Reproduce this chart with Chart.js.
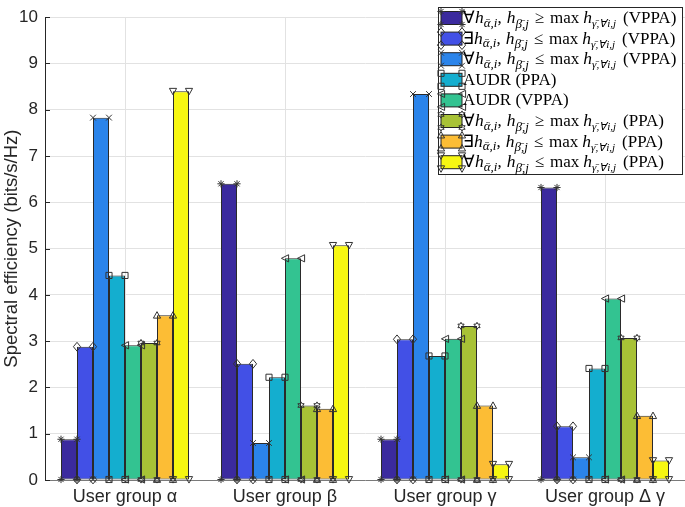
<!DOCTYPE html>
<html><head><meta charset="utf-8">
<script src="https://cdn.jsdelivr.net/npm/chart.js@4/dist/chart.umd.min.js"></script>
<style>html,body{margin:0;padding:0;background:#fff;}#wrap{width:685px;height:507px;position:relative;}</style>
</head><body><div id="wrap"><canvas id="c" width="685" height="507"></canvas></div>
<script>
const categories = ['User group α', 'User group β', 'User group γ', 'User group Δ γ'];
const s1 = [0.88, 6.40, 0.88, 6.32];
const s2 = [2.88, 2.51, 3.04, 1.16];
const s3 = [7.83, 0.80, 8.34, 0.49];
const s4 = [4.42, 2.22, 2.68, 2.41];
const s5 = [2.91, 4.79, 3.05, 3.92];
const s6 = [2.96, 1.61, 3.33, 3.07];
const s7 = [3.56, 1.54, 1.61, 1.39];
const s8 = [8.40, 5.07, 0.34, 0.42];
const yTicks = [0, 1, 2, 3, 4, 5, 6, 7, 8, 9, 10];
const legendQuant = ['∀', '∃', '∀', '', '', '∀', '∃', '∀'];
const legendRel = ['≥', '≤', '≤', '', '', '≥', '≤', '≤'];
const legendTag = ['(VPPA)', '(VPPA)', '(VPPA)', 'AUDR (PPA)', 'AUDR (VPPA)', '(PPA)', '(PPA)', '(PPA)'];
const colors = ['#3b2a9e', '#4250e6', '#2b84ea', '#14aecf', '#33c391', '#a8c236', '#fcbd35', '#f7f712'];
const markers = ['asterisk', 'diamond', 'x', 'square', 'triLeft', 'hexagram', 'triUp', 'triDown'];

const series = [s1, s2, s3, s4, s5, s6, s7, s8];
function labelText(i) {
  if (!legendQuant[i]) return legendTag[i];
  return legendQuant[i] + 'h_{ᾱ,i}, h_{β̄,j} ' + legendRel[i] + ' max h_{γ̄,∀i,j} ' + legendTag[i];
}

function drawMarker(ctx, type, x, y) {
  const r = 3.6;
  ctx.beginPath();
  switch (type) {
    case 'asterisk':
      ctx.moveTo(x - r, y); ctx.lineTo(x + r, y);
      ctx.moveTo(x, y - r); ctx.lineTo(x, y + r);
      ctx.moveTo(x - r * 0.72, y - r * 0.72); ctx.lineTo(x + r * 0.72, y + r * 0.72);
      ctx.moveTo(x - r * 0.72, y + r * 0.72); ctx.lineTo(x + r * 0.72, y - r * 0.72);
      break;
    case 'diamond':
      ctx.moveTo(x, y - r - 0.8); ctx.lineTo(x + r, y); ctx.lineTo(x, y + r + 0.8); ctx.lineTo(x - r, y); ctx.closePath();
      break;
    case 'x':
      ctx.moveTo(x - r * 0.8, y - r * 0.8); ctx.lineTo(x + r * 0.8, y + r * 0.8);
      ctx.moveTo(x - r * 0.8, y + r * 0.8); ctx.lineTo(x + r * 0.8, y - r * 0.8);
      break;
    case 'square':
      ctx.rect(x - r * 0.85, y - r * 0.85, r * 1.7, r * 1.7);
      break;
    case 'triLeft':
      ctx.moveTo(x - r, y); ctx.lineTo(x + r, y - r); ctx.lineTo(x + r, y + r); ctx.closePath();
      break;
    case 'triUp':
      ctx.moveTo(x, y - r); ctx.lineTo(x + r, y + r * 0.8); ctx.lineTo(x - r, y + r * 0.8); ctx.closePath();
      break;
    case 'triDown':
      ctx.moveTo(x, y + r); ctx.lineTo(x + r, y - r * 0.8); ctx.lineTo(x - r, y - r * 0.8); ctx.closePath();
      break;
    case 'hexagram': {
      for (let k = 0; k < 12; k++) {
        const a = -Math.PI / 2 + k * Math.PI / 6;
        const rr = k % 2 === 0 ? r : r * 0.55;
        const px = x + rr * Math.cos(a), py = y + rr * Math.sin(a);
        if (k === 0) ctx.moveTo(px, py); else ctx.lineTo(px, py);
      }
      ctx.closePath();
      break;
    }
  }
  ctx.stroke();
}

function drawMath(ctx, x, y, i) {
  const main = '17px "Liberation Serif"';
  const ital = 'italic 17.5px "Liberation Serif"';
  const sub = 'italic 13px "Liberation Serif"';
  const sub2 = 'italic 11px "Liberation Serif"';
  function put(t, f, dy, gap) { ctx.font = f; ctx.fillText(t, x, y + dy); x += ctx.measureText(t).width + (gap || 0); }
  if (!legendQuant[i]) { put(legendTag[i], main, 0); return; }
  put(legendQuant[i], main, 0);
  put('h', ital, 0); put('ᾱ,i', sub, 3.5);
  put(',', main, 0, 5);
  put('h', ital, 0); put('β̄,j', sub, 4.5, 6);
  put(legendRel[i], main, 0, 6);
  put('max', main, 0, 4);
  put('h', ital, 0); put('γ̄,∀i,j', sub2, 4, 7);
  put(legendTag[i], main, 0);
}

const overlay = {
  id: 'overlay',
  beforeDatasetsDraw(chart) {
    const ctx = chart.ctx, ys = chart.scales.y, ca = chart.chartArea;
    ctx.save();
    ctx.strokeStyle = '#262626'; ctx.lineWidth = 1;
    ctx.beginPath();
    yTicks.forEach(v => { const py = Math.round(ys.getPixelForValue(v)) + 0.5; ctx.moveTo(ca.left, py); ctx.lineTo(ca.left + 5, py); });
    ctx.stroke();
    ctx.restore();
  },
  afterDatasetsDraw(chart) {
    const ctx = chart.ctx;
    ctx.save();
    ctx.strokeStyle = '#333'; ctx.lineWidth = 1;
    chart.data.datasets.forEach((ds, di) => {
      const meta = chart.getDatasetMeta(di);
      meta.data.forEach(el => {
        const w = el.width;
        const pts = [[el.x - w / 2, el.y], [el.x + w / 2, el.y], [el.x - w / 2, el.base], [el.x + w / 2, el.base]];
        pts.forEach(p => drawMarker(ctx, markers[di], p[0], p[1]));
      });
    });
    ctx.restore();
  },
  afterDraw(chart) {
    const ctx = chart.ctx;
    ctx.save();
    const bx = 438.5, by = 7.5, bw = 244, bh = 167;
    ctx.fillStyle = '#fff'; ctx.fillRect(bx, by, bw, bh);
    ctx.strokeStyle = '#262626'; ctx.lineWidth = 1; ctx.strokeRect(bx, by, bw, bh);
    for (let i = 0; i < 8; i++) {
      const cy = 18 + i * 20.6;
      const px = 441, pw = 21, ph = 13;
      ctx.fillStyle = colors[i];
      ctx.fillRect(px, cy - ph / 2, pw, ph);
      ctx.strokeStyle = '#222'; ctx.strokeRect(px, cy - ph / 2, pw, ph);
      ctx.strokeStyle = '#333';
      [[px, cy - ph / 2], [px + pw, cy - ph / 2], [px, cy + ph / 2], [px + pw, cy + ph / 2]].forEach(p => drawMarker(ctx, markers[i], p[0], p[1]));
      ctx.fillStyle = '#000'; ctx.textBaseline = 'alphabetic'; ctx.textAlign = 'left';
      drawMath(ctx, 463, cy + 5, i);
    }
    ctx.restore();
  }
};

const datasets = series.map((d, i) => ({
  label: labelText(i),
  data: d,
  backgroundColor: colors[i],
  borderColor: '#2a2a2a',
  borderWidth: 1,
  borderSkipped: false,
  barPercentage: 1.0,
  categoryPercentage: 0.8
}));

new Chart(document.getElementById('c'), {
  type: 'bar',
  data: { labels: categories, datasets },
  options: {
    responsive: false,
    animation: false,
    layout: { padding: { top: 5, right: 0, left: 0, bottom: 0 } },
    plugins: { legend: { display: false }, tooltip: { enabled: false } },
    scales: {
      x: {
        grid: { offset: false, color: '#e2e2e2', drawTicks: false },
        border: { color: '#7a7a7a' },
        ticks: { color: '#262626', font: { family: 'Liberation Sans', size: 18 }, padding: 6 },
        afterFit(s) { s.height = 27; }
      },
      y: {
        min: 0, max: 10,
        afterBuildTicks(s) { s.ticks = yTicks.map(v => ({ value: v })); },
        grid: { color: '#e2e2e2', drawTicks: false },
        border: { color: '#262626' },
        ticks: { color: '#262626', font: { family: 'Liberation Sans', size: 17 }, padding: 7 },
        title: { display: true, text: 'Spectral efficiency (bits/s/Hz)', color: '#262626', font: { family: 'Liberation Sans', size: 18.5 }, padding: { top: 1, bottom: 0 } },
        afterFit(s) { s.width = 45; }
      }
    }
  },
  plugins: [overlay]
});
</script></body></html>
